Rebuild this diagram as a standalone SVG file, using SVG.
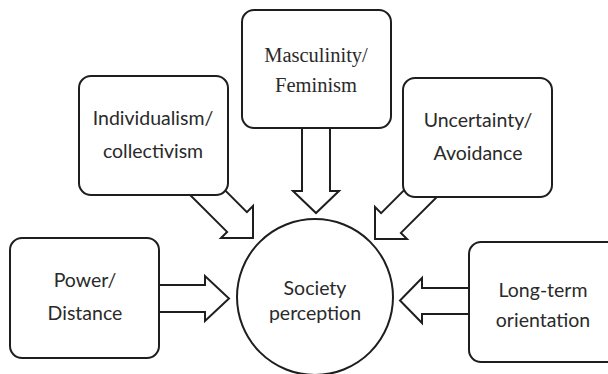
<svg xmlns="http://www.w3.org/2000/svg" width="608" height="374" viewBox="0 0 608 374">
<style>
.box{fill:#fff;stroke:#1e1e1e;stroke-width:2}
.arr{fill:#fff;stroke:#1e1e1e;stroke-width:2;stroke-linejoin:miter}
.t{font-family:Lato,"Open Sans",sans-serif;font-size:19.5px;fill:#2a2a2a;text-anchor:middle}
.s{font-family:"Liberation Serif","Times New Roman",serif;font-size:20.5px;fill:#2a2a2a;text-anchor:middle}
</style>
<rect width="608" height="374" fill="#fff"/>
<g id="connectors">
<polygon class="arr" points="302,120 330,120 330,191 339,191 316,213 293,191 302,191"/>
<polygon class="arr" points="140,285 205,285 205,276 229,298.5 205,321 205,312 140,312"/>
<polygon class="arr" points="490,288 422,288 422,278 400,300.5 422,323 422,314 490,314"/>
<polygon class="arr" points="204.9,170.1 246.9,212.1 253,206 253,238 221,238 227.1,231.9 185.1,189.9"/>
<polygon class="arr" points="423.1,171.1 381.1,213.1 375,207 375,239 407,239 400.9,232.9 442.9,190.9"/>
</g>
<g id="masculinity">
<rect class="box" x="242" y="10" width="149" height="118" rx="12"/>
<text class="s" x="316" y="62">Masculinity/</text>
<text class="s" x="316" y="92">Feminism</text>
</g>
<g id="individualism">
<rect class="box" x="79" y="76" width="149" height="119" rx="12"/>
<text class="t" x="153" y="125">Individualism/</text>
<text class="t" x="153" y="158">collectivism</text>
</g>
<g id="uncertainty">
<rect class="box" x="403" y="78" width="149" height="119" rx="12"/>
<text class="t" x="478" y="127">Uncertainty/</text>
<text class="t" x="478" y="160">Avoidance</text>
</g>
<g id="power">
<rect class="box" x="10" y="238" width="149" height="120" rx="12"/>
<text class="t" x="85" y="287">Power/</text>
<text class="t" x="85" y="320">Distance</text>
</g>
<g id="longterm">
<rect class="box" x="469" y="242" width="160" height="120" rx="12"/>
<text class="t" x="543" y="297">Long-term</text>
<text class="t" x="543" y="327">orientation</text>
</g>
<g id="society">
<circle class="box" cx="315" cy="297" r="78"/>
<text class="t" x="315" y="295">Society</text>
<text class="t" x="315" y="320">perception</text>
</g>
</svg>
